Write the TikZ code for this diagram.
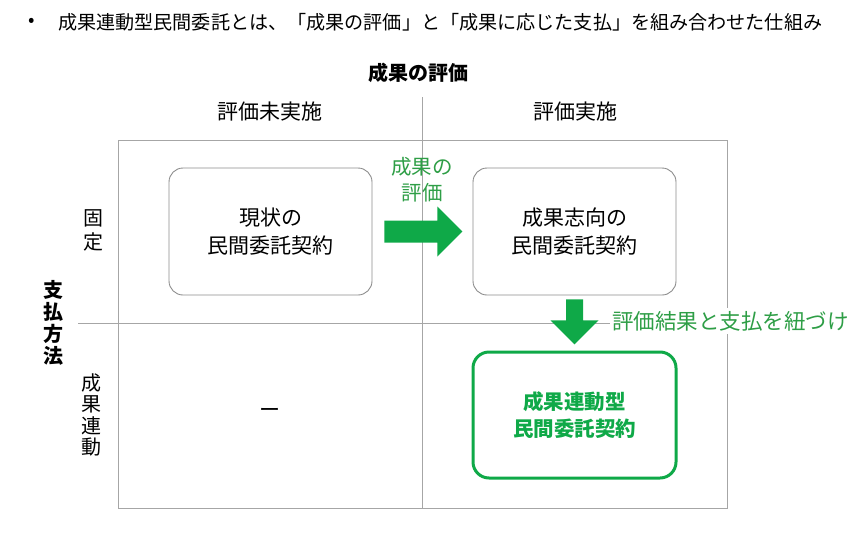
\documentclass[tikz,border=0pt]{standalone}
\usepackage{fontspec}
\setmainfont{Noto Sans CJK JP}
\definecolor{arrowgreen}{HTML}{0FA948}
\definecolor{textgreen}{HTML}{2E9E46}
\definecolor{linegray}{HTML}{A6A6A6}
\definecolor{boxgray}{HTML}{8C8C8C}
\tikzset{
  lbl/.style={font=\fontsize{21}{25}\selectfont, inner sep=0pt, align=center},
  boldlbl/.style={lbl, font=\fontsize{20}{23}\selectfont\bfseries},
  vert/.style={lbl, font=\fontsize{20}{24}\selectfont},
  cbox/.style={draw=boxgray, line width=0.9pt, rounded corners=14pt, minimum width=203pt, minimum height=127pt, inner sep=0pt, align=center, font=\fontsize{21}{28}\selectfont},
  gbox/.style={draw=arrowgreen, line width=3pt, rounded corners=16pt, minimum width=203pt, minimum height=126pt, inner sep=0pt, align=center, text=arrowgreen, font=\fontsize{20.5}{27}\selectfont\bfseries},
  grid/.style={draw=linegray, line width=0.9pt},
  garrow/.style={fill=arrowgreen, draw=none},
}
\begin{document}
\begin{tikzpicture}[x=1pt,y=-1pt]
\useasboundingbox (0,0) rectangle (858,543);
% header
\node[lbl, font=\fontsize{19}{23}\selectfont, anchor=west] (bullet) at (28,22) {•};
\node[lbl, font=\fontsize{19.1}{23}\selectfont, anchor=west] (title) at (58,22) {成果連動型民間委託とは、「成果の評価」と「成果に応じた支払」を組み合わせた仕組み};
% axis labels
\node[boldlbl] (xaxis) at (418,73) {成果の評価};
\node[lbl] (col1) at (270,112) {評価未実施};
\node[lbl] (col2) at (575,112) {評価実施};
\node[boldlbl, font=\fontsize{20}{22}\selectfont\bfseries] (yaxis) at (53,323) {支\\払\\方\\法};
\node[vert] (row1) at (93,230) {固\\定};
\node[vert, font=\fontsize{20}{21.5}\selectfont] (row2) at (91,415) {成\\果\\連\\動};
% grid
\coordinate (frameNW) at (118,140);
\coordinate (frameSE) at (727,508);
\draw[grid] (frameNW) rectangle (frameSE);
\coordinate (vtop) at (422,97);
\coordinate (vbot) at (422,508);
\coordinate (hleft) at (78,323);
\coordinate (hright) at (727,323);
\draw[grid] (vtop) -- (vbot);
\draw[grid] (hleft) -- (hright);
% boxes
\node[cbox] (current) at (270.5,231.5) {現状の\\民間委託契約};
\node[cbox] (oriented) at (574.5,231.5) {成果志向の\\民間委託契約};
\node[gbox] (linked) at (574.5,415) {成果連動型\\民間委託契約};
\node[lbl] (none) at (270,413) {ー};
% right arrow
\draw[garrow] (current.east) ++(12,-11) -- ++(53,0) -- ++(0,-14) -- ++(25,25) -- ++(-25,25) -- ++(0,-14) -- ++(-53,0) -- cycle;
\node[lbl, text=textgreen, font=\fontsize{20.5}{26}\selectfont] (evallbl) at (422,180) {成果の\\評価};
% down arrow
\draw[garrow] (oriented.south) ++(-8.5,4) -- ++(0,21) -- ++(-15.5,0) -- ++(24,24) -- ++(24,-24) -- ++(-15.5,0) -- ++(0,-21) -- cycle;
\node[lbl, text=textgreen, font=\fontsize{21.5}{25}\selectfont, anchor=west, fill=white, inner xsep=2pt, inner ysep=3pt] (linklbl) at (610,321) {評価結果と支払を紐づけ};
\end{tikzpicture}
\end{document}
